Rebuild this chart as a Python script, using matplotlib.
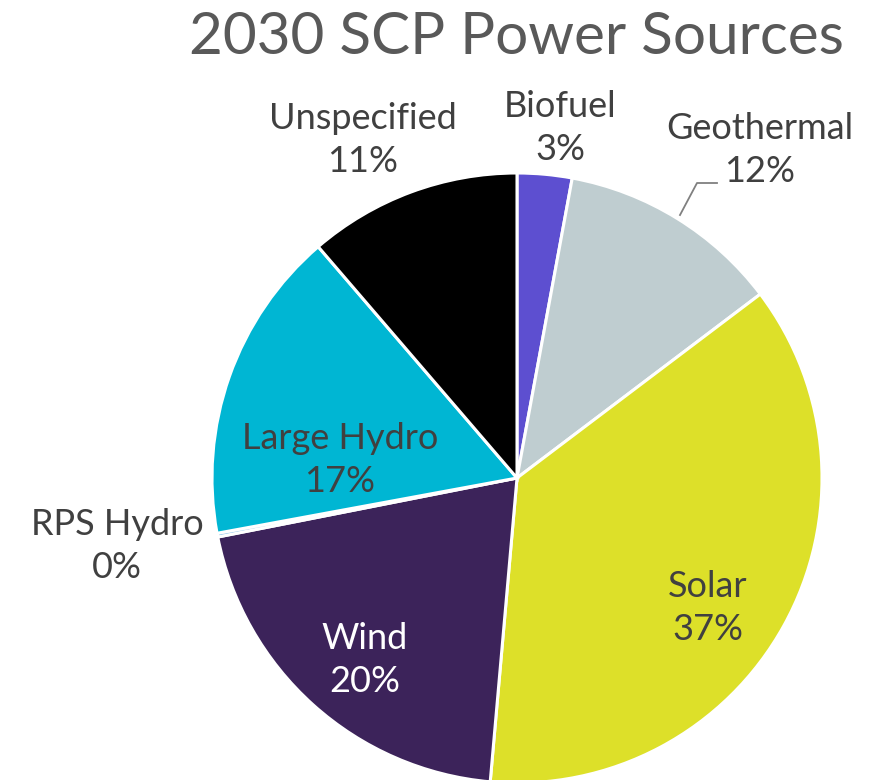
import numpy as np
import matplotlib.pyplot as plt

# data
sources = ['Biofuel', 'Geothermal', 'Solar', 'Wind', 'RPS Hydro', 'Large Hydro', 'Unspecified']
shares = [2.9, 11.8, 36.7, 20.5, 0.2, 16.6, 11.3]
colors = ['#5d4fd0', '#bfcdd0', '#dde029', '#3c235a', '#8fc3e8', '#00b6d3', '#000000']
text_colors = ['#404040', '#404040', '#404040', '#ffffff', '#404040', '#404040', '#404040']

# label centres in pixel coords (x from left, y from top)
label_pos = [(560, 128), (760, 150), (708, 608), (365, 660), (117, 546), (340, 460), (363, 140)]

W, H = 882, 780
fig = plt.figure(figsize=(W / 100, H / 100), dpi=100)
ax = fig.add_axes([0, 0, 1, 1])

ax.pie(shares, colors=colors, startangle=90, counterclock=False,
       radius=305, center=(517, H - 478),
       wedgeprops=dict(edgecolor='white', linewidth=2.2))

# pie() resets the limits, so set them afterwards
ax.set_xlim(0, W)
ax.set_ylim(0, H)
ax.set_aspect('equal')
ax.set_axis_off()

for name, val, (x, y), tc in zip(sources, shares, label_pos, text_colors):
	ax.text(x, H - y, f'{name}\n{round(val):.0f}%', ha='center', va='center',
			fontsize=26, family='Lato', color=tc, linespacing=1.4)

# leader line for Geothermal
ax.plot([680, 697, 717], [H - 215, H - 183, H - 183], color='#808080', lw=1.3)

ax.text(516, H - 38, '2030 SCP Power Sources', ha='center', va='center',
		fontsize=42, family='Lato', color='#595959')

fig.savefig('out.png', dpi=100)
